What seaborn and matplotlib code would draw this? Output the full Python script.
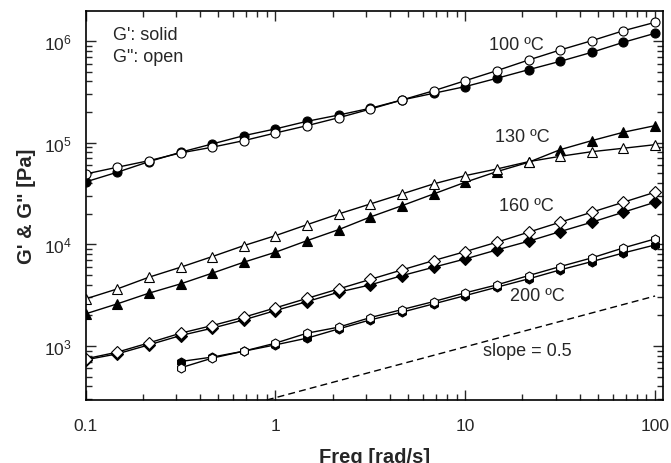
import numpy as np
import pandas as pd
import seaborn as sns
import matplotlib.pyplot as plt
from matplotlib.ticker import LogLocator, FixedLocator, FixedFormatter, NullFormatter

# angular frequency [rad/s], 6 points per decade
freq = [0.1, 0.1468, 0.2154, 0.3162, 0.4642, 0.6813, 1.0, 1.468, 2.154, 3.162,
        4.642, 6.813, 10.0, 14.68, 21.54, 31.62, 46.42, 68.13, 100.0]

# 100 C
g1_100 = [41100, 51200, 65000, 80500, 97100, 117200, 136500, 162300, 187000, 218000,
          263000, 306000, 356000, 430000, 522000, 631000, 774000, 971000, 1191000]
g2_100 = [49200, 57300, 66500, 79200, 90200, 104700, 124500, 147000, 176000, 214000,
          263000, 324000, 407000, 511000, 650000, 816000, 1007000, 1262000, 1527000]

# 130 C
g1_130 = [2070, 2596, 3305, 4080, 5200, 6670, 8360, 10870, 13950, 18580,
          24000, 31300, 40800, 51900, 64100, 85300, 104700, 126600, 147000]
g2_130 = [2904, 3640, 4745, 5950, 7570, 9710, 12170, 15610, 19900, 24950,
          31300, 39300, 47400, 55100, 65000, 73400, 81500, 88100, 95500]

# 160 C
g1_160 = [730, 836, 1025, 1266, 1495, 1806, 2230, 2733, 3383, 3990,
          4920, 5950, 7180, 8810, 10720, 13330, 16500, 20700, 25950]
g2_160 = [747, 869, 1072, 1335, 1587, 1918, 2370, 2940, 3640, 4520,
          5600, 6920, 8480, 10490, 13160, 16500, 20700, 25950, 32550]

# 200 C (starts at 0.316 rad/s)
freq_200 = freq[3:]
g1_200 = [703, 777, 889, 1025, 1194, 1472, 1806, 2150, 2594, 3130,
          3785, 4570, 5600, 6760, 8220, 9860]
g2_200 = [609, 759, 889, 1066, 1336, 1531, 1903, 2280, 2733, 3330,
          3990, 4920, 6040, 7350, 9220, 11300]

# reference line, slope 0.5
slope_x = [0.9, 100]
slope_y = [294, 3100]

temps = ["100 ºC", "130 ºC", "160 ºC", "200 ºC"]
label_pos = [(18.6, 9.3e5), (20.0, 1.16e5), (21.0, 2.39e4), (24.0, 3.1e3)]


def main():
    sns.set_style("ticks")
    plt.rcParams['font.family'] = ['Liberation Sans', 'DejaVu Sans']
    plt.rcParams['mathtext.fontset'] = 'custom'
    plt.rcParams['mathtext.rm'] = 'Liberation Sans'

    fig = plt.figure(figsize=(6.71, 4.64), dpi=100)
    ax = fig.add_axes([0.1277, 0.1358, 0.8603, 0.8382])

    series = [
        (freq, g1_100, g2_100, 'o', 6.5),
        (freq, g1_130, g2_130, '^', 7),
        (freq, g1_160, g2_160, 'D', 6),
        (freq_200, g1_200, g2_200, 'h', 6.5),
    ]
    for x, g1, g2, mk, ms in series:
        sns.lineplot(x=x, y=g1, ax=ax, color='black', lw=1, marker=mk, ms=ms,
                     markerfacecolor='black', markeredgecolor='black', mew=0.8)
        sns.lineplot(x=x, y=g2, ax=ax, color='black', lw=1, marker=mk, ms=ms,
                     markerfacecolor='white', markeredgecolor='black', mew=0.8)

    sns.lineplot(x=slope_x, y=slope_y, ax=ax, color='black', lw=1, linestyle=(0, (5, 3)))

    ax.set_xscale('log')
    ax.set_yscale('log')
    ax.set_xlim(0.1, 110)
    ax.set_ylim(294, 1.97e6)

    ax.xaxis.set_major_locator(FixedLocator([0.1, 1, 10, 100]))
    ax.xaxis.set_major_formatter(FixedFormatter(['0.1', '1', '10', '100']))
    ax.xaxis.set_minor_locator(LogLocator(base=10, subs=np.arange(2, 10), numticks=20))
    ax.xaxis.set_minor_formatter(NullFormatter())
    ax.yaxis.set_minor_locator(LogLocator(base=10, subs=np.arange(2, 10), numticks=20))
    ax.yaxis.set_minor_formatter(NullFormatter())

    ax.tick_params(which='both', direction='in', top=True, right=True, labelsize=12.5, width=1)
    ax.tick_params(which='major', length=7)
    ax.tick_params(which='minor', length=4)
    ax.tick_params(axis='x', which='major', pad=13)
    ax.tick_params(axis='y', which='major', pad=10)
    for s in ax.spines.values():
        s.set_linewidth(1.2)
        s.set_color('black')

    ax.set_xlabel("Freq [rad/s]", fontsize=14.5, fontweight='bold', labelpad=10)
    ax.set_ylabel("G' & G\" [Pa]", fontsize=14.5, fontweight='bold', labelpad=6)

    ax.text(0.139, 1.17e6, "G': solid", fontsize=13, va='center')
    ax.text(0.139, 6.96e5, "G\": open", fontsize=13, va='center')
    for t, (tx, ty) in zip(temps, label_pos):
        ax.text(tx, ty, t, fontsize=13, ha='center', va='center')
    ax.text(21.3, 895, "slope = 0.5", fontsize=13, ha='center', va='center')

    fig.savefig("out.png", dpi=100)


if __name__ == "__main__":
    main()
